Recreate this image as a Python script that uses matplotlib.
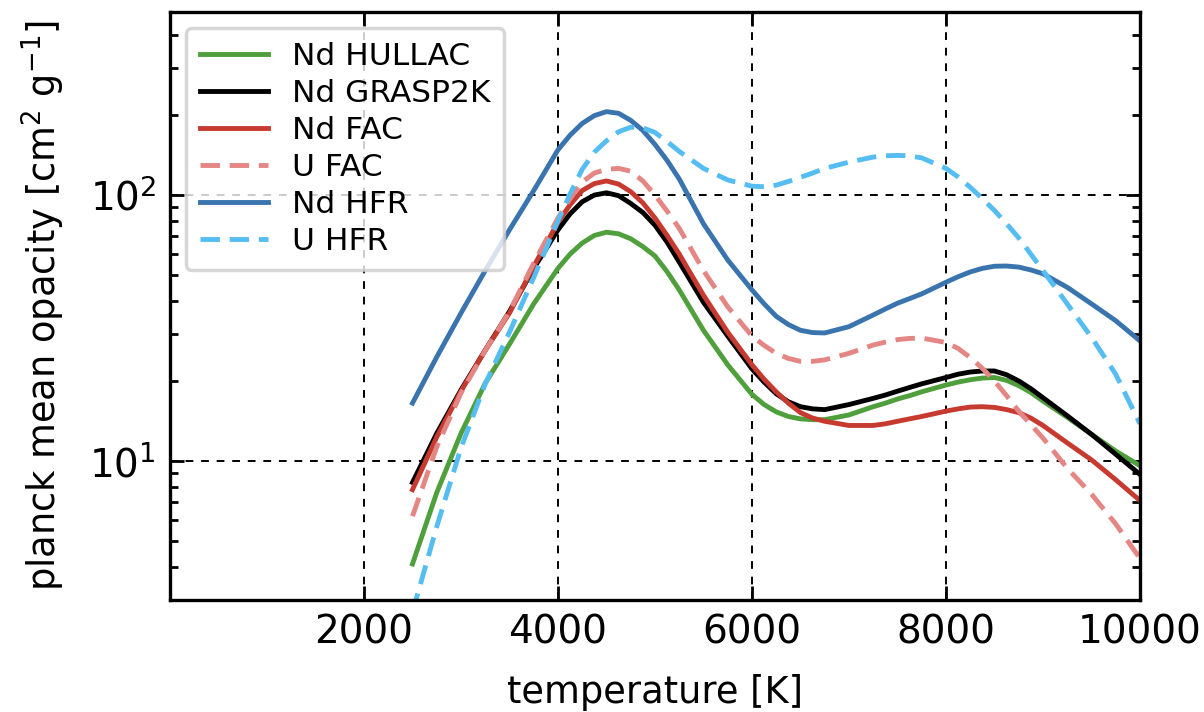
import matplotlib as mpl
import matplotlib.pyplot as plt
import numpy as np

mpl.rcParams["font.size"] = 26.5

# Temperature grid [K] (denser around the bumps)
temp = [2500, 2750, 3000, 3250, 3500, 3750, 4000, 4125, 4250, 4375, 4500,
        4625, 4750, 4875, 5000, 5125, 5250, 5500, 5750, 6000, 6125, 6250,
        6375, 6500, 6625, 6750, 7000, 7250, 7375, 7500, 7625, 7750, 8000,
        8125, 8250, 8375, 8500, 8625, 8750, 8875, 9000, 9250, 9500, 9750,
        10000]

# Planck mean opacities [cm^2 g^-1]
nd_hullac = [4.1, 7.6, 12.7, 19.6, 27.5, 39, 53, 60, 66, 70.5, 72.5,
             71.5, 68.5, 64, 59, 51.5, 44, 31, 23, 17.8, 16.3, 15.3,
             14.7, 14.4, 14.3, 14.3, 14.9, 16, 16.5, 17.1, 17.6, 18.2, 19.3,
             19.8, 20.2, 20.5, 20.6, 20.1, 19.2, 18.1, 16.8, 14.6, 12.6, 10.9,
             9.6]
nd_grasp2k = [8.3, 12.7, 18.5, 26.1, 36.5, 53, 74, 85, 94.4, 100, 102,
              99.5, 93, 86, 77, 66.5, 56, 39.5, 29.5, 22.2, 19.8, 17.9,
              16.7, 16, 15.7, 15.6, 16.3, 17.2, 17.7, 18.3, 18.9, 19.5, 20.6,
              21.2, 21.6, 21.8, 21.8, 21.1, 20, 18.7, 17.3, 14.8, 12.6, 10.6,
              8.9]
nd_fac = [7.8, 12.3, 18.3, 26.1, 36, 54, 79, 92, 104, 110.5, 113,
          110, 103, 93.5, 82, 70.5, 60, 42, 30.5, 23, 20.3, 18.2,
          16.5, 15.2, 14.5, 14.1, 13.6, 13.6, 13.8, 14.1, 14.4, 14.7, 15.4,
          15.7, 15.95, 16, 15.9, 15.6, 15.2, 14.5, 13.6, 11.7, 10.1, 8.5,
          7.1]
u_fac = [6.2, 11.3, 18, 26, 36.5, 55.5, 82, 97, 112, 121, 125,
         126, 123, 113, 100, 87, 75, 52, 38, 29.5, 27.2, 25.4,
         24.3, 23.7, 23.7, 24, 25.4, 27.3, 28, 28.6, 28.9, 29, 27.9,
         26.5, 24.5, 22.3, 20, 17.6, 15.4, 13.7, 12.2, 9.4, 7.5, 5.8,
         4.3]
nd_hfr = [16.5, 24.6, 36, 52, 74, 104, 148, 168, 186, 199, 206,
          203, 191, 175, 155, 135, 115, 78, 57, 44, 39, 35,
          32.6, 31, 30.4, 30.3, 32, 35.4, 37.3, 39.2, 40.8, 42.5, 47,
          49.3, 51.4, 53, 54, 54.1, 53.6, 52.3, 50.6, 45, 39, 33.7,
          28.3]
u_hfr = [2.7, 5.66, 11.2, 19.5, 30.5, 49, 80, 101, 125, 145, 160,
         173, 180, 179, 172, 159, 146, 126, 114, 108, 107.5, 109,
         112.5, 116.6, 121, 126, 133, 139, 140.5, 141, 140.5, 138, 126,
         117, 107, 97, 87.5, 78, 69, 60, 52, 39, 29.2, 21.2,
         13.8]

xticks = [2000, 4000, 6000, 8000, 10000]

# Plot
fig = plt.figure(figsize=(12.04, 7.12), dpi=100)
ax = fig.add_axes([0.1412, 0.1573, 0.8056, 0.8258])

lw = 3.5
dash = (0, (4, 2))
ax.plot(temp, nd_hullac, color="#4f9f3c", lw=lw, label="Nd HULLAC")
ax.plot(temp, nd_grasp2k, color="k", lw=lw, label="Nd GRASP2K")
ax.plot(temp, nd_fac, color="#c73a30", lw=lw, label="Nd FAC")
ax.plot(temp, u_fac, color="#e48784", lw=lw, ls=dash, label="U FAC")
ax.plot(temp, nd_hfr, color="#3a74ae", lw=lw, label="Nd HFR")
ax.plot(temp, u_hfr, color="#55bdf2", lw=lw, ls=dash, label="U HFR")

# Format
ax.set_yscale("log")
ax.set_xlim(0, 10000)
ax.set_ylim(3.0, 488)
ax.set_xticks(xticks)
ax.set_xlabel("temperature [K]", labelpad=16)
ax.set_ylabel(r"planck mean opacity [cm$^2$ g$^{-1}$]", labelpad=16)
ax.grid(True, which="major", color="k", ls=(0, (4, 4)), lw=1.4)

ax.tick_params(which="both", direction="in", top=True, right=True, width=2.0)
ax.tick_params(which="major", length=10, labelsize=28, pad=10)
ax.tick_params(which="minor", length=6)
for sp in ax.spines.values():
    sp.set_linewidth(2.4)

leg = ax.legend(loc="upper left", fontsize=22.5, handlelength=2.2,
                handletextpad=0.75, labelspacing=0.26, borderpad=0.45,
                framealpha=0.8, fancybox=True)
leg.get_frame().set_edgecolor("#cccccc")
leg.get_frame().set_linewidth(2.5)

fig.savefig("out.png", dpi=100)
